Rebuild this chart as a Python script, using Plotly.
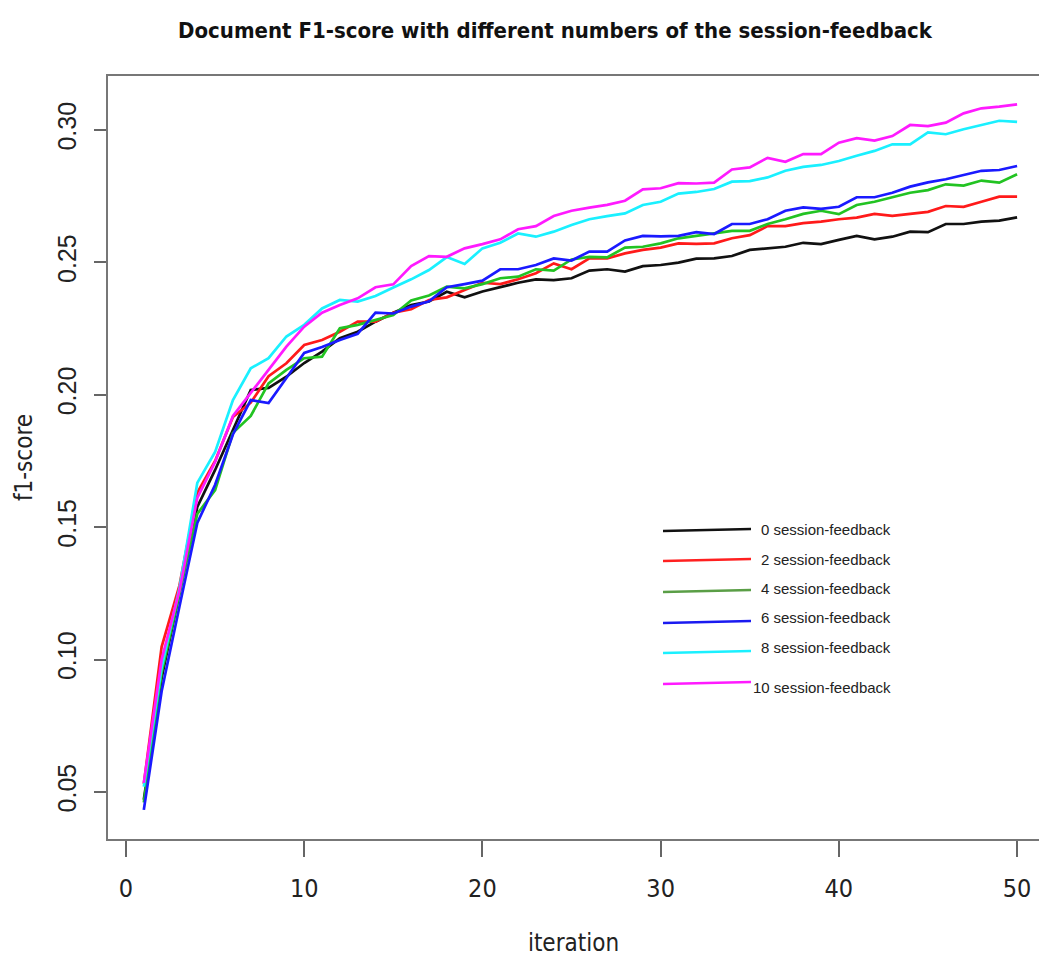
import plotly.graph_objects as go

iterations = list(range(1, 51))

f1_0 = [0.047, 0.093, 0.125, 0.1576, 0.1716, 0.187, 0.2018, 0.2026, 0.2068, 0.212,
        0.2163, 0.2214, 0.2238, 0.2276, 0.231, 0.2339, 0.2352, 0.2389, 0.2368, 0.239,
        0.2406, 0.2423, 0.2436, 0.2433, 0.244, 0.2469, 0.2474, 0.2465, 0.2486, 0.249,
        0.2499, 0.2514, 0.2515, 0.2524, 0.2547, 0.2553, 0.2559, 0.2574, 0.2569, 0.2585,
        0.26, 0.2587, 0.2597, 0.2616, 0.2614, 0.2645, 0.2645, 0.2654, 0.2658, 0.267]
f1_2 = [0.053, 0.1048, 0.128, 0.163, 0.175, 0.1916, 0.197, 0.207, 0.2119, 0.2188,
        0.2207, 0.2238, 0.2276, 0.2276, 0.231, 0.2323, 0.2358, 0.2368, 0.2396, 0.2423,
        0.2418, 0.2436, 0.2459, 0.2496, 0.2474, 0.2515, 0.2515, 0.2534, 0.2547, 0.2556,
        0.2572, 0.2570, 0.2572, 0.2591, 0.2603, 0.2637, 0.2637, 0.2648, 0.2654, 0.2663,
        0.2669, 0.2683, 0.2676, 0.2683, 0.2691, 0.2713, 0.271, 0.2729, 0.2748, 0.2748]
f1_4 = [0.046, 0.095, 0.125, 0.155, 0.164, 0.1856, 0.192, 0.2043, 0.2094, 0.2138,
        0.2144, 0.2251, 0.2264, 0.2283, 0.2301, 0.2356, 0.2375, 0.2408, 0.2402, 0.2418,
        0.244, 0.2446, 0.2474, 0.2469, 0.2511, 0.2521, 0.2519, 0.2556, 0.2559, 0.2572,
        0.2591, 0.26, 0.261, 0.2619, 0.2619, 0.2645, 0.2663, 0.2683, 0.2695, 0.2682,
        0.2717, 0.2729, 0.2746, 0.2763, 0.2773, 0.2795, 0.279, 0.2809, 0.2801, 0.2833]
f1_6 = [0.0432, 0.088, 0.120, 0.1516, 0.166, 0.185, 0.198, 0.1969, 0.2063, 0.2158,
        0.218, 0.2207, 0.223, 0.231, 0.2307, 0.2333, 0.2353, 0.2406, 0.2418, 0.2431,
        0.2474, 0.2474, 0.249, 0.2515, 0.2507, 0.2541, 0.2541, 0.2583, 0.26, 0.2598,
        0.26, 0.2614, 0.2607, 0.2645, 0.2645, 0.2663, 0.2695, 0.2708, 0.2702, 0.271,
        0.2746, 0.2746, 0.2763, 0.2786, 0.2802, 0.2814, 0.283, 0.2846, 0.2849, 0.2864]
f1_8 = [0.052, 0.097, 0.127, 0.1667, 0.1784, 0.198, 0.210, 0.2138, 0.222, 0.2264,
        0.2326, 0.2358, 0.2352, 0.2373, 0.2405, 0.2436, 0.2471, 0.252, 0.2494, 0.2553,
        0.2574, 0.2609, 0.2597, 0.2616, 0.2641, 0.2663, 0.2675, 0.2685, 0.2717, 0.2729,
        0.276, 0.2766, 0.2777, 0.2805, 0.2807, 0.2821, 0.2846, 0.2861, 0.2868, 0.2883,
        0.2903, 0.2921, 0.2946, 0.2946, 0.2991, 0.2984, 0.3003, 0.3019, 0.3035, 0.3031]
f1_10 = [0.0534, 0.100, 0.126, 0.161, 0.1746, 0.192, 0.2007, 0.2094, 0.2182, 0.2257,
         0.231, 0.2339, 0.2364, 0.2406, 0.2417, 0.2486, 0.2524, 0.2521, 0.2553, 0.2569,
         0.2587, 0.2625, 0.2637, 0.2675, 0.2695, 0.2707, 0.2717, 0.2733, 0.2776, 0.278,
         0.2799, 0.2798, 0.2801, 0.2851, 0.2859, 0.2895, 0.288, 0.2909, 0.2909, 0.2952,
         0.2969, 0.296, 0.2977, 0.3019, 0.3015, 0.3028, 0.3063, 0.3082, 0.3088, 0.3097]

series_names = ["0 session-feedback", "2 session-feedback", "4 session-feedback",
                "6 session-feedback", "8 session-feedback", "10 session-feedback"]
series_values = [f1_0, f1_2, f1_4, f1_6, f1_8, f1_10]
line_colors = ["#111111", "#FF1A1A", "#22C322", "#1A1AFF", "#1AF0FF", "#FF1AFF"]
legend_colors = ["#111111", "#FF2020", "#5A9E46", "#1A1AF0", "#1AF0FF", "#FF1AFF"]

x_ticks = [0, 10, 20, 30, 40, 50]
y_ticks = [0.05, 0.10, 0.15, 0.20, 0.25, 0.30]

W, H = 1039, 960
ML, MR, MT, MB = 108, 0, 76, 121

fig = go.Figure()
for name, vals, col in zip(series_names, series_values, line_colors):
    fig.add_trace(go.Scatter(x=iterations, y=vals, mode="lines", name=name,
                             line=dict(color=col, width=2.7), showlegend=False))

# hand-placed legend like the reference (lines + labels), built from the series lists
leg_x0, leg_x1, leg_text_right = 663, 751, 893
leg_line_y = [530, 560, 591, 622, 652, 683]
leg_text_y = [529, 559, 588, 617, 647, 687]
pw = W - ML - MR
ph = H - MT - MB
def px2paper_x(px):
    return (px - ML) / pw
def px2paper_y(py):
    return 1 - (py - MT) / ph
for name, col, ly, ty in zip(series_names, legend_colors, leg_line_y, leg_text_y):
    fig.add_shape(type="line", xref="paper", yref="paper",
                  x0=px2paper_x(leg_x0), x1=px2paper_x(leg_x1),
                  y0=px2paper_y(ly + 1), y1=px2paper_y(ly - 1),
                  line=dict(color=col, width=2.6))
    fig.add_annotation(xref="paper", yref="paper", x=px2paper_x(leg_text_right),
                       y=px2paper_y(ty), text=name, showarrow=False,
                       xanchor="right", yanchor="middle",
                       font=dict(family="Liberation Sans, Arial, sans-serif", size=15, color="#222"))

narrow = "Liberation Sans Narrow, Arial Narrow, DejaVu Sans Condensed, sans-serif"
fig.update_layout(
    width=W, height=H,
    margin=dict(l=ML, r=MR, t=MT, b=MB, pad=0),
    paper_bgcolor="white", plot_bgcolor="white",
    title=dict(text="<b>Document F1-score with different numbers of the session-feedback</b>",
               x=555 / W, xanchor="center", xref="container",
               y=1 - 30 / H, yanchor="middle", yref="container",
               font=dict(family=narrow, size=22, color="#111")),
    xaxis=dict(range=[-1.01, 51.23], tickvals=x_ticks, ticktext=[str(v) for v in x_ticks],
               showgrid=False, zeroline=False, showline=True, mirror=True,
               linecolor="#777", linewidth=2,
               ticks="outside", ticklen=16, tickwidth=1.5, tickcolor="#666",
               ticklabelstandoff=10,
               tickfont=dict(family=narrow, size=25, color="#222"),
               title=dict(text="iteration", standoff=32,
                          font=dict(family=narrow, size=24, color="#222"))),
    yaxis=dict(range=[0.0322, 0.3204], tickvals=y_ticks, ticktext=[f"{v:.2f}" for v in y_ticks],
               showgrid=False, zeroline=False, showline=True, mirror=False,
               linecolor="#777", linewidth=2,
               ticks="outside", ticklen=12, tickwidth=1.5, tickcolor="#666",
               tickangle=-90, ticklabelstandoff=8,
               tickfont=dict(family="Liberation Sans, Arial, sans-serif", size=25, color="#222"),
               title=dict(text="f1-score", standoff=14,
                          font=dict(family=narrow, size=24, color="#222"))),
)

fig.write_html("out.html")
